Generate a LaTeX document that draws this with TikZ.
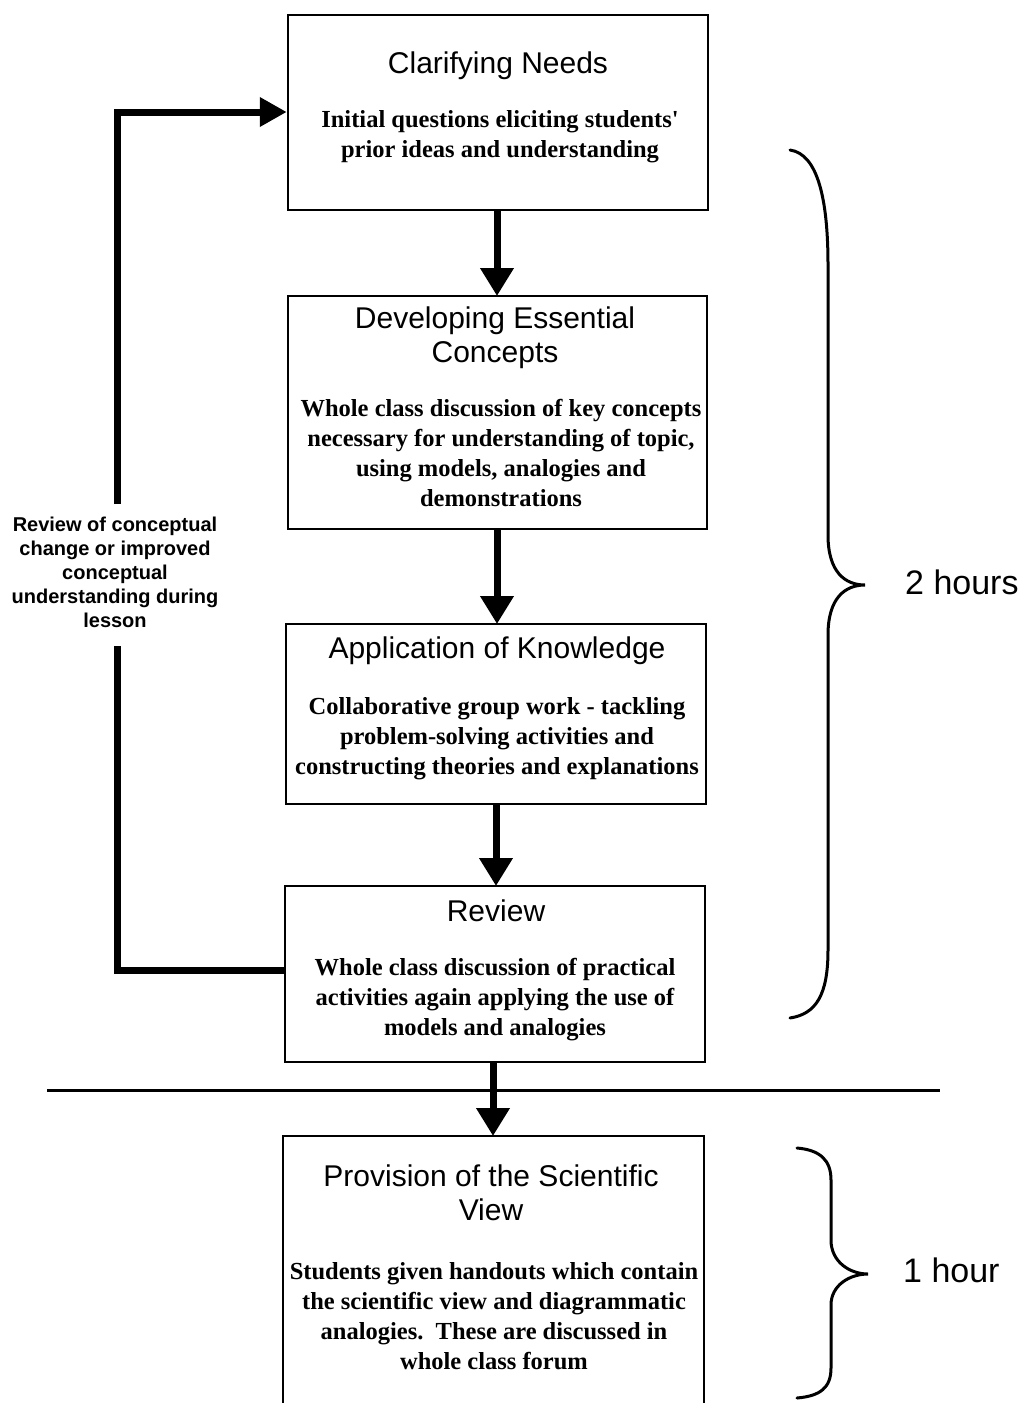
\documentclass[tikz,border=0pt]{standalone}
\usepackage{fontspec}
\setmainfont{Liberation Serif}
\setsansfont{Liberation Sans}
\usetikzlibrary{arrows.meta}
\begin{document}
\begin{tikzpicture}[x=1pt,y=-1pt,
  box/.style={draw, line width=2.5pt, inner sep=0pt},
  ttl/.style={font=\sffamily\fontsize{30}{34}\selectfont, align=center, inner sep=0pt},
  bdy/.style={font=\bfseries\fontsize{24.5}{30}\selectfont, align=center, inner sep=0pt},
  flow/.style={line width=7pt, -{Triangle[width=32pt,length=28pt]}},
  loopline/.style={line width=7pt, line join=miter},
  brace/.style={line width=3pt, line cap=round},
  hrs/.style={font=\sffamily\fontsize{34}{40}\selectfont, inner sep=0pt}]
\useasboundingbox (0,0) rectangle (1023,1403);
\fill[white] (0,0) rectangle (1023,1403);

% boxes
\node[box, minimum width=420pt, minimum height=195pt] (b1) at (498,112.5) {};
\node[box, minimum width=419pt, minimum height=233pt] (b2) at (497.5,412.5) {};
\node[box, minimum width=420pt, minimum height=180pt] (b3) at (496,714) {};
\node[box, minimum width=420pt, minimum height=176pt] (b4) at (495,974) {};
\node[box, minimum width=421pt, minimum height=300pt] (b5) at (493.5,1286) {};

% texts
\node[ttl] (t1) at (498,66) {Clarifying Needs};
\node[bdy] (d1) at (500,137) {Initial questions eliciting students\textquotesingle\\prior ideas and understanding};
\node[ttl] (t2) at (495,337.5) {Developing Essential\\Concepts};
\node[bdy] (d2) at (501,453) {Whole class discussion of key concepts\\necessary for understanding of topic,\\using models, analogies and\\demonstrations};
\node[ttl] (t3) at (497,651) {Application of Knowledge};
\node[bdy] (d3) at (497,739) {Collaborative group work - tackling\\problem-solving activities and\\constructing theories and explanations};
\node[ttl] (t4) at (496,911) {Review};
\node[bdy] (d4) at (495,1000) {Whole class discussion of practical\\activities again applying the use of\\models and analogies};
\node[ttl] (t5) at (491,1193) {Provision of the Scientific\\View};
\node[bdy] (d5) at (494,1316) {Students given handouts which contain\\the scientific view and diagrammatic\\analogies.\ \ These are discussed in\\whole class forum};

% flow arrows
\draw[flow] (b1.south -| 497,0) -- (497,296);
\draw[flow] (b2.south -| 497,0) -- (497,624);
\draw[flow] (b3.south -| 496,0) -- (496,886);
\draw[flow] (b4.south -| 493,0) -- (493,1136);

% separator
\draw[line width=3pt] (47,1090) -- (940,1090);

% loop
\node[font=\sffamily\bfseries\fontsize{20}{24}\selectfont, align=center, inner sep=0pt] (lbl) at (115,572)
  {Review of conceptual\\change or improved\\conceptual\\understanding during\\lesson};
\coordinate (lA) at (117,646);
\coordinate (lB) at (117,504);
\draw[loopline] (b4.west |- 0,970) -| (lA);
\draw[loopline, -{Triangle[width=28pt,length=27pt]}] (lB) |- (b1.west |- 0,112);

% braces
\draw[brace] (790,150) .. controls (818,154) and (828,200) .. (828,265) -- (828,535)
  .. controls (828,572) and (845,585) .. (865,585)
  .. controls (845,585) and (828,598) .. (828,635) -- (828,950)
  .. controls (828,995) and (816,1014) .. (790,1018);
\node[hrs, anchor=west] (h2) at (905,582) {2 hours};

\draw[brace] (797,1148) .. controls (820,1150) and (831,1160) .. (831,1180) -- (831,1240)
  .. controls (831,1262) and (850,1274) .. (868,1274)
  .. controls (850,1274) and (831,1285) .. (831,1305) -- (831,1368)
  .. controls (831,1388) and (820,1396) .. (797,1398);
\node[hrs, anchor=west] (h1) at (903,1270) {1 hour};
\end{tikzpicture}
\end{document}
